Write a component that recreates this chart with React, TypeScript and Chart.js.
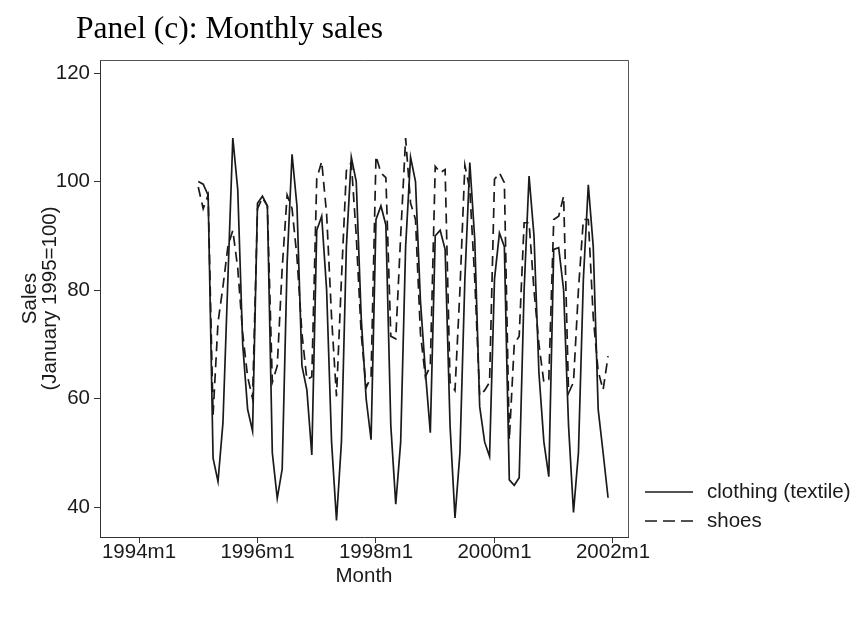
import React, { useEffect, useRef } from "react";
import { Chart, registerables } from "chart.js";
Chart.register(...registerables);

// ---- data ----
const years = [1995, 1996, 1997, 1998, 1999, 2000, 2001];
const clothing = [
  100, 99.5, 97.5, 49, 44.7, 55.5, 82, 108, 98.5, 70, 58, 54,
  96, 97.3, 95.5, 50, 41.6, 47, 85, 105, 95.4, 66, 61.6, 49.6,
  91, 93.6, 80, 52, 37.5, 52, 88, 104.5, 100, 75, 60, 52.4,
  93, 95.5, 92, 55, 40.5, 52, 88, 104.5, 100, 78, 65, 53.7,
  90, 91, 87.5, 55, 38, 50, 82, 103.5, 89.3, 58.5, 52, 49.3,
  82, 90.5, 88, 45, 44, 45.4, 80, 101, 90, 64.7, 52, 45.6,
  87.5, 87.8, 80, 55, 39, 50, 82, 99.4, 88, 58, 50, 41.7,
];
const shoes = [
  99, 95, 97.5, 57, 74, 80.6, 88, 91, 84, 72, 64, 60,
  95, 97, 95.5, 63, 66, 84, 97.5, 95, 86, 72, 63.5, 64,
  100.5, 103.7, 94, 75, 60.4, 82, 102, 103.5, 90, 72, 62, 64,
  104.7, 101.6, 100.7, 71.5, 71, 90, 108, 96, 93, 72, 64, 66,
  102.8, 101.6, 102.2, 63, 61.5, 80, 103, 98.5, 82, 60.5, 61.5, 63,
  100.4, 101.6, 99.8, 52.4, 70, 71.5, 92.4, 92.4, 80, 70, 63, 63.5,
  93, 93.6, 97.3, 61, 63, 80, 93, 93, 75, 65, 61.6, 67.8,
];
const xTickLabels = ["1994m1", "1996m1", "1998m1", "2000m1", "2002m1"];
const yTickValues = [40, 60, 80, 100, 120];
const seriesNames = ["clothing (textile)", "shoes"];
const titleText = "Panel (c): Monthly sales";
const yTitle = ["Sales", "(January 1995=100)"];
const xTitle = "Month";

// Stata-style monthly date: months since 1960m1
const tm = (label: string) => {
  const [y, m] = label.split("m").map(Number);
  return (y - 1960) * 12 + (m - 1);
};
const monthLabels: string[] = [];
years.forEach((y) => {
  for (let m = 1; m <= 12; m++) monthLabels.push(`${y}m${m}`);
});
const tickMap: Record<number, string> = {};
xTickLabels.forEach((l) => (tickMap[tm(l)] = l));

const SANS = '"Liberation Sans", Arial, Helvetica, sans-serif';
const SERIF = '"Liberation Serif", "Times New Roman", serif';
const INK = "#1a1a1a";
const DASH = [10, 6];

export default function App() {
  const ref = useRef<HTMLCanvasElement | null>(null);

  useEffect(() => {
    if (!ref.current) return;
    const decor = {
      id: "decor",
      afterDraw(chart: any) {
        const { ctx, chartArea } = chart;
        ctx.save();
        // top and right frame lines
        ctx.strokeStyle = "#555";
        ctx.lineWidth = 1;
        ctx.beginPath();
        ctx.moveTo(chartArea.left, chartArea.top + 0.5);
        ctx.lineTo(chartArea.right + 0.5, chartArea.top + 0.5);
        ctx.lineTo(chartArea.right + 0.5, chartArea.bottom);
        ctx.stroke();
        // title
        ctx.fillStyle = "#000";
        ctx.font = `31.5px ${SERIF}`;
        ctx.textBaseline = "alphabetic";
        ctx.textAlign = "left";
        ctx.fillText(titleText, 76, 38);
        // legend
        ctx.font = `20.5px ${SANS}`;
        ctx.textBaseline = "middle";
        const rows = [492, 521];
        chart.data.datasets.forEach((ds: any, i: number) => {
          ctx.strokeStyle = ds.borderColor;
          ctx.lineWidth = ds.borderWidth;
          ctx.setLineDash(i === 1 ? [12, 6] : []);
          ctx.beginPath();
          ctx.moveTo(645, rows[i]);
          ctx.lineTo(693, rows[i]);
          ctx.stroke();
          ctx.setLineDash([]);
          ctx.fillStyle = INK;
          ctx.fillText(ds.label, 707, rows[i]);
        });
        ctx.restore();
      },
    };

    const chart = new Chart(ref.current, {
      type: "line",
      data: {
        datasets: [
          {
            label: seriesNames[0],
            data: clothing.map((v, i) => ({ x: tm(monthLabels[i]), y: v })),
            borderColor: INK,
            borderWidth: 1.7,
            pointRadius: 0,
            tension: 0,
            fill: false,
          },
          {
            label: seriesNames[1],
            data: shoes.map((v, i) => ({ x: tm(monthLabels[i]), y: v })),
            borderColor: INK,
            borderWidth: 1.7,
            borderDash: DASH,
            pointRadius: 0,
            tension: 0,
            fill: false,
          },
        ],
      },
      options: {
        animation: false,
        responsive: false,
        devicePixelRatio: 1,
        layout: { padding: { top: 60, left: 0, right: 228, bottom: 0 } },
        plugins: { legend: { display: false }, tooltip: { enabled: false }, title: { display: false } },
        scales: {
          x: {
            type: "linear",
            min: 400.1,
            max: 507.04,
            afterFit: (s: any) => {
              s.height = 80;
            },
            afterBuildTicks: (s: any) => {
              s.ticks = xTickLabels.map((l) => ({ value: tm(l) }));
            },
            ticks: {
              autoSkip: false,
              maxRotation: 0,
              padding: -1,
              color: INK,
              font: { family: SANS, size: 20.5, lineHeight: 1 },
              callback: (v: any) => tickMap[v as number] ?? "",
            },
            grid: { drawOnChartArea: false, drawTicks: true, tickLength: 6, color: "#333" },
            border: { display: true, color: "#333", width: 1 },
            title: {
              display: true,
              text: xTitle,
              color: INK,
              font: { family: SANS, size: 20.5, lineHeight: 1 },
              padding: { top: 0, bottom: 30 },
            },
          },
          y: {
            type: "linear",
            min: 34.47,
            max: 122.4,
            afterFit: (s: any) => {
              s.width = 100;
            },
            afterBuildTicks: (s: any) => {
              s.ticks = yTickValues.map((v) => ({ value: v }));
            },
            ticks: {
              autoSkip: false,
              padding: 4,
              color: INK,
              font: { family: SANS, size: 20.5, lineHeight: 1 },
            },
            grid: { drawOnChartArea: false, drawTicks: true, tickLength: 6, color: "#333" },
            border: { display: true, color: "#333", width: 1 },
            title: {
              display: true,
              text: yTitle,
              color: INK,
              font: { family: SANS, size: 20.5, lineHeight: 1 },
              padding: { top: 20, bottom: 0 },
            },
          },
        },
      },
      plugins: [decor],
    });
    return () => chart.destroy();
  }, []);

  return (
    <div style={{ position: "fixed", left: 0, top: 0, width: 856, height: 617, background: "#fff" }}>
      <canvas ref={ref} width={856} height={617} style={{ width: 856, height: 617 }} />
    </div>
  );
}
